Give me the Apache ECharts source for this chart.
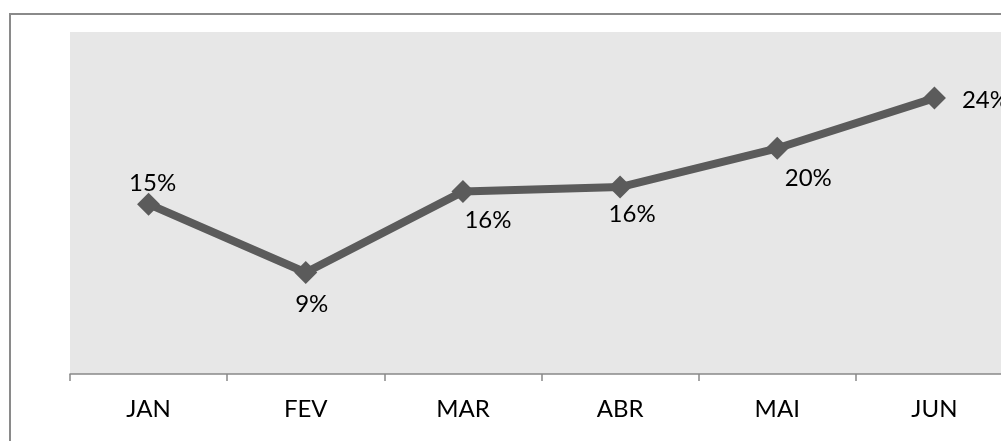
<!DOCTYPE html>
<html>
<head>
<meta charset="utf-8">
<script src="https://cdn.jsdelivr.net/npm/echarts@6/dist/echarts.min.js"></script>
<style>
  html, body { margin: 0; padding: 0; background: #fff; }
  #chart { width: 1001px; height: 441px; }
</style>
</head>
<body>
<div id="chart"></div>
<script>
var months = ['JAN', 'FEV', 'MAR', 'ABR', 'MAI', 'JUN'];
var rates = [14.9, 8.9, 16.0, 16.4, 19.8, 24.2];

// where each value label sits relative to its marker
var labelOffsets = [[4, -21], [6, 32], [25, 29], [12, 27], [31, 30], [51, 2]];

var chart = echarts.init(document.getElementById('chart'));

var option = {
    animation: false,
    textStyle: { fontFamily: 'Lato' },
    graphic: [{
        type: 'rect',
        shape: { x: 10, y: 14, width: 1000, height: 440 },
        style: { fill: 'none', stroke: '#8a8a8a', lineWidth: 2 },
        silent: true
    }],
    grid: {
        left: 70, top: 32, width: 943, bottom: 67,
        outerBoundsMode: 'none',
        show: true, backgroundColor: '#e7e7e7', borderWidth: 0
    },
    xAxis: {
        type: 'category',
        data: months,
        boundaryGap: true,
        axisLine: { lineStyle: { color: '#898989', width: 1.5 } },
        axisTick: { show: true, length: 7, lineStyle: { color: '#898989', width: 1.5 } },
        axisLabel: { color: '#000', fontSize: 24, margin: 23 }
    },
    yAxis: {
        type: 'value', min: 0, max: 30, show: false,
        splitLine: { show: false }
    },
    series: [{
        type: 'line',
        data: rates.map(function (v, i) {
            return {
                value: v,
                label: { offset: labelOffsets[i] }
            };
        }),
        symbol: 'diamond',
        symbolSize: 23,
        itemStyle: { color: '#5b5b5b' },
        lineStyle: { color: '#5b5b5b', width: 8 },
        label: {
            show: true,
            position: 'inside',
            color: '#000',
            fontSize: 24,
            formatter: function (p) { return Math.round(p.value) + '%'; }
        }
    }]
};

chart.setOption(option);
</script>
</body>
</html>
